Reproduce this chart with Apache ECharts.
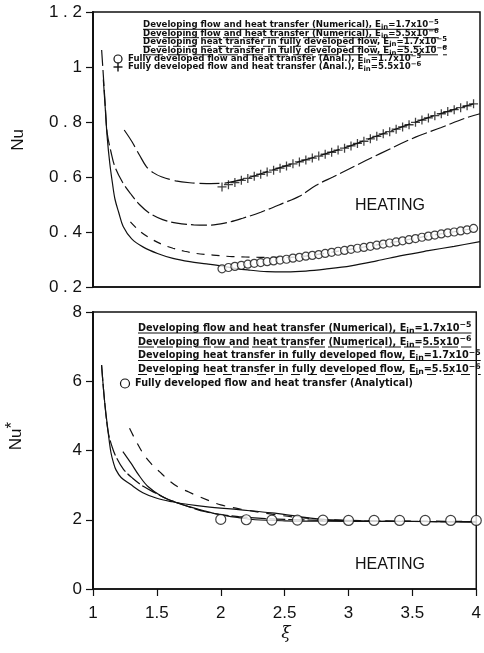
<!DOCTYPE html>
<html>
<head>
<meta charset="utf-8">
<script src="https://cdn.jsdelivr.net/npm/echarts@6/dist/echarts.min.js"></script>
<style>
  html, body { margin: 0; padding: 0; background: #fff; }
  #chart { width: 484px; height: 653px; }
</style>
</head>
<body>
<div id="chart"></div>
<script>
// ---- Upper panel: Nu versus xi ----
const topYLabels = ['0.2', '0.4', '0.6', '0.8', '1', '1.2'];

// Developing flow and heat transfer (numerical), E_in = 1.7e-5
const topNumAX = [1.08, 1.095, 1.11, 1.13, 1.15, 1.17, 1.2, 1.234, 1.3, 1.39, 1.5, 1.62, 1.75, 1.88, 2.0, 2.1, 2.2, 2.35, 2.5, 2.65, 2.8, 3.0, 3.2, 3.4, 3.6, 3.8, 4.0];
const topNumAY = [0.955, 0.85, 0.745, 0.65, 0.58, 0.52, 0.47, 0.42, 0.375, 0.345, 0.322, 0.304, 0.292, 0.284, 0.276, 0.268, 0.262, 0.256, 0.255, 0.258, 0.265, 0.277, 0.295, 0.315, 0.332, 0.348, 0.365];

// Developing flow and heat transfer (numerical), E_in = 5.5e-6
const topNumBX = [1.067, 1.08, 1.095, 1.11, 1.14, 1.17, 1.23, 1.29, 1.36, 1.44, 1.54, 1.65, 1.78, 1.9, 2.02, 2.16, 2.3, 2.47, 2.6, 2.73, 2.86, 3.0, 3.23, 3.5, 3.7, 3.88, 4.0];
const topNumBY = [1.062, 0.97, 0.86, 0.76, 0.69, 0.637, 0.58, 0.54, 0.5, 0.468, 0.445, 0.432, 0.426, 0.425, 0.432, 0.45, 0.472, 0.504, 0.53, 0.57, 0.6, 0.633, 0.686, 0.745, 0.78, 0.813, 0.83];

// Developing heat transfer in fully developed flow, E_in = 1.7e-5
const topHtAX = [1.29, 1.37, 1.466, 1.54, 1.62, 1.71, 1.8, 1.93, 2.06, 2.18, 2.3, 2.45, 2.6, 2.8, 3.0, 3.2, 3.4, 3.6, 3.8, 3.95];
const topHtAY = [0.437, 0.4, 0.371, 0.354, 0.341, 0.33, 0.322, 0.316, 0.311, 0.309, 0.308, 0.308, 0.31, 0.323, 0.338, 0.353, 0.369, 0.386, 0.401, 0.413];

// Developing heat transfer in fully developed flow, E_in = 5.5e-6
const topHtBX = [1.242, 1.3, 1.36, 1.415, 1.47, 1.53, 1.64, 1.75, 1.88, 2.0, 2.1, 2.2, 2.4, 2.6, 2.8, 3.0, 3.2, 3.4, 3.6, 3.8, 3.95];
const topHtBY = [0.771, 0.73, 0.68, 0.637, 0.615, 0.601, 0.586, 0.579, 0.576, 0.577, 0.585, 0.597, 0.627, 0.656, 0.684, 0.714, 0.749, 0.783, 0.816, 0.846, 0.866];

// Fully developed flow and heat transfer (analytical)
const topAnalX = [2.00, 2.05, 2.10, 2.15, 2.20, 2.25, 2.30, 2.35, 2.40, 2.45, 2.50, 2.55, 2.60, 2.65, 2.70, 2.75, 2.80, 2.85, 2.90, 2.95,
                  3.00, 3.05, 3.10, 3.15, 3.20, 3.25, 3.30, 3.35, 3.40, 3.45, 3.50, 3.55, 3.60, 3.65, 3.70, 3.75, 3.80, 3.85, 3.90, 3.95];
const topAnalAY = [0.266, 0.271, 0.275, 0.279, 0.283, 0.286, 0.289, 0.292, 0.295, 0.298, 0.301, 0.305, 0.308, 0.312, 0.315, 0.318, 0.322, 0.326, 0.330, 0.333,
                   0.337, 0.341, 0.344, 0.348, 0.352, 0.356, 0.360, 0.364, 0.368, 0.372, 0.376, 0.381, 0.385, 0.389, 0.393, 0.397, 0.400, 0.404, 0.408, 0.413];
const topAnalBY = [0.564, 0.572, 0.580, 0.588, 0.595, 0.603, 0.610, 0.618, 0.625, 0.632, 0.640, 0.648, 0.655, 0.662, 0.669, 0.676, 0.683, 0.690, 0.698, 0.705,
                   0.713, 0.722, 0.730, 0.739, 0.748, 0.757, 0.765, 0.774, 0.782, 0.790, 0.799, 0.807, 0.815, 0.823, 0.830, 0.838, 0.845, 0.852, 0.859, 0.866];

// ---- Lower panel: Nu* versus xi ----
const xLabels = ['1', '1.5', '2', '2.5', '3', '3.5', '4'];
const botYLabels = ['0', '2', '4', '6', '8'];

const botNumAX = [1.067, 1.09, 1.118, 1.14, 1.16, 1.18, 1.22, 1.29, 1.39, 1.5, 1.62, 1.75, 1.88, 2.14, 2.4, 2.6, 2.8, 3.1, 3.5, 4.0];
const botNumAY = [6.47, 5.45, 4.55, 3.95, 3.65, 3.44, 3.22, 3.03, 2.78, 2.62, 2.52, 2.44, 2.38, 2.29, 2.2, 2.1, 2.01, 1.97, 1.95, 1.94];

const botNumBX = [1.067, 1.09, 1.118, 1.15, 1.18, 1.24, 1.31, 1.4, 1.49, 1.58, 1.67, 1.77, 1.88, 2.0, 2.14, 2.35, 2.6, 2.85, 3.2, 3.6, 4.0];
const botNumBY = [6.47, 5.45, 4.55, 4.1, 3.82, 3.45, 3.2, 2.95, 2.77, 2.6, 2.48, 2.35, 2.23, 2.15, 2.09, 2.03, 2.0, 1.98, 1.96, 1.95, 1.94];

const botHtAX = [1.234, 1.3, 1.36, 1.43, 1.54, 1.65, 1.75, 1.88, 2.0, 2.14, 2.27, 2.5, 2.8, 3.2, 3.6, 4.0];
const botHtAY = [3.97, 3.62, 3.28, 2.96, 2.67, 2.5, 2.38, 2.25, 2.14, 2.06, 2.0, 1.97, 1.96, 1.95, 1.95, 1.94];

const botHtBX = [1.286, 1.34, 1.4, 1.46, 1.52, 1.59, 1.66, 1.75, 1.83, 2.0, 2.2, 2.4, 2.6, 2.85, 3.2, 3.6, 4.0];
const botHtBY = [4.64, 4.25, 3.87, 3.6, 3.39, 3.15, 2.96, 2.8, 2.67, 2.43, 2.28, 2.16, 2.07, 2.0, 1.97, 1.96, 1.95];

const botAnalX = [2.0, 2.2, 2.4, 2.6, 2.8, 3.0, 3.2, 3.4, 3.6, 3.8, 4.0];
const botAnalY = [2.01, 2.0, 1.99, 1.99, 1.99, 1.98, 1.98, 1.98, 1.98, 1.98, 1.98];

// ---- styling helpers ----
const INK = '#111';
const LINE_W = 1.2;
const DASH = {
  numA: 'solid',
  numB: [16, 4],
  htA: [8, 7],
  htB: [20, 5]
};
const DASH_BOT = {
  numA: 'solid',
  numB: [16, 3],
  htA: 'solid',
  htB: [9, 8]
};
const PLUS = 'path://M4.3,0h1.4v10h-1.4zM0,4.3h10v1.4h-10z';

const zip = (xs, ys) => xs.map((x, i) => [x, ys[i]]);
const spaced = s => s.split('').join(' ');

function lineSeries(name, xs, ys, type, idx) {
  return {
    name, type: 'line', xAxisIndex: idx, yAxisIndex: idx,
    data: zip(xs, ys), smooth: 0.35, symbol: 'none',
    lineStyle: { color: INK, width: LINE_W, type },
    silent: true, z: 3
  };
}

// legend text with E subscript "in" and a power-of-ten superscript
const LEG_FONT = 'DejaVu Sans';
function legendText(x, y, head, mant, expo, size) {
  const sub = Math.round(size * 0.8 * 10) / 10;
  const rich = {
    s: { fontSize: sub, fontWeight: 'bold', fontFamily: LEG_FONT, lineHeight: sub, verticalAlign: 'bottom', fill: INK },
    p: { fontSize: sub, fontWeight: 'bold', fontFamily: LEG_FONT, lineHeight: sub, verticalAlign: 'top', fill: INK }
  };
  let text = head;
  if (mant) text += 'E{s|in}=' + mant + '{p|' + expo + '}';
  return {
    type: 'text', x, y,
    style: {
      text, rich, fill: INK, fontSize: size, fontWeight: 'bold', fontFamily: LEG_FONT,
      lineHeight: size + 3.5, verticalAlign: 'middle', align: 'left'
    },
    silent: true
  };
}

const measureCtx = document.createElement('canvas').getContext('2d');
function textWidth(head, mant, expo, size) {
  measureCtx.font = 'bold ' + size + 'px "' + LEG_FONT + '"';
  let w = measureCtx.measureText(head + 'E=' + (mant || '')).width;
  if (mant) {
    measureCtx.font = 'bold ' + (Math.round(size * 0.8 * 10) / 10) + 'px "' + LEG_FONT + '"';
    w += measureCtx.measureText('in' + expo).width;
  }
  return w;
}

function underline(x, y, w, dash) {
  return {
    type: 'line', shape: { x1: x, y1: y, x2: x + w, y2: y },
    style: { stroke: INK, lineWidth: 1, lineDash: dash === 'solid' ? null : dash },
    silent: true
  };
}

const rowsDef = [
  ['Developing flow and heat transfer (Numerical), ', '1.7x10', '\u22125', 'numA'],
  ['Developing flow and heat transfer (Numerical), ', '5.5x10', '\u22126', 'numB'],
  ['Developing heat transfer in fully developed flow, ', '1.7x10', '\u22125', 'htA'],
  ['Developing heat transfer in fully developed flow, ', '5.5x10', '\u22126', 'htB']
];

const graphics = [];
// upper legend
{
  const size = 8.6, x0 = 143, ys = [25, 33.4, 42, 50.5];
  rowsDef.forEach((r, i) => {
    graphics.push(legendText(x0, ys[i], r[0], r[1], r[2], size));
    graphics.push(underline(x0, ys[i] + 4.3, textWidth(r[0], r[1], r[2], size), DASH[r[3]]));
  });
  graphics.push({ type: 'circle', shape: { cx: 118, cy: 59, r: 4 }, style: { fill: '#fff', stroke: INK, lineWidth: 1.2 }, silent: true });
  graphics.push(legendText(128, 59, 'Fully developed flow and heat transfer (Anal.), ', '1.7x10', '\u22125', size));
  graphics.push({ type: 'group', x: 113.5, y: 62.5, children: [
    { type: 'rect', shape: { x: 3.8, y: 0, width: 1.4, height: 9 }, style: { fill: INK } },
    { type: 'rect', shape: { x: 0, y: 3.8, width: 9, height: 1.4 }, style: { fill: INK } }
  ], silent: true });
  graphics.push(legendText(128, 67, 'Fully developed flow and heat transfer (Anal.), ', '5.5x10', '\u22126', size));
}
// lower legend
{
  const size = 9.7, x0 = 138, ys = [328, 342, 355.5, 369.5];
  rowsDef.forEach((r, i) => {
    graphics.push(legendText(x0, ys[i], r[0], r[1], r[2], size));
    graphics.push(underline(x0, ys[i] + 5, textWidth(r[0], r[1], r[2], size), DASH_BOT[r[3]]));
  });
  graphics.push({ type: 'circle', shape: { cx: 125, cy: 383.5, r: 4.5 }, style: { fill: '#fff', stroke: INK, lineWidth: 1.2 }, silent: true });
  graphics.push(legendText(135, 383.5, 'Fully developed flow and heat transfer (Analytical)', null, null, size));
}
// annotations and axis titles
const TITLE_FONT = 'Liberation Sans';
graphics.push({ type: 'text', x: 390, y: 206, style: { text: 'HEATING', fontSize: 16, fontFamily: TITLE_FONT, fill: INK, align: 'center', verticalAlign: 'middle' }, silent: true });
graphics.push({ type: 'text', x: 390, y: 565, style: { text: 'HEATING', fontSize: 16, fontFamily: TITLE_FONT, fill: INK, align: 'center', verticalAlign: 'middle' }, silent: true });
graphics.push({ type: 'text', x: 18, y: 140, rotation: Math.PI / 2, style: { text: 'Nu', fontSize: 17, fontFamily: TITLE_FONT, fill: INK, align: 'center', verticalAlign: 'middle' }, silent: true });
graphics.push({ type: 'text', x: 16, y: 436, rotation: Math.PI / 2,
  style: { text: 'Nu{a|*}', fontSize: 17, fontFamily: TITLE_FONT, fill: INK, align: 'center', verticalAlign: 'middle', lineHeight: 24,
    rich: { a: { fontSize: 17, fontFamily: TITLE_FONT, fill: INK, lineHeight: 12, verticalAlign: 'top' } } }, silent: true });
graphics.push({ type: 'text', x: 286, y: 634, style: { text: '\u03be', fontSize: 17, fontStyle: 'italic', fontFamily: 'DejaVu Serif', fill: INK, align: 'center', verticalAlign: 'middle' }, silent: true });

const axisLabelFont = { color: INK, fontSize: 17, fontFamily: TITLE_FONT };

const option = {
  backgroundColor: '#fff',
  animation: false,
  grid: [
    { left: 93, top: 12, width: 387, height: 275, show: true, borderColor: INK, borderWidth: 1.5, containLabel: false },
    { left: 93, top: 312, width: 388, height: 277, show: true, borderColor: INK, borderWidth: 1.5, containLabel: false }
  ],
  xAxis: [
    { gridIndex: 0, type: 'value', min: 1, max: 4, interval: 0.5,
      axisLine: { show: true, onZero: false, lineStyle: { color: INK, width: 1.5 } },
      axisTick: { show: false }, axisLabel: { show: false }, splitLine: { show: false } },
    { gridIndex: 1, type: 'value', min: 1, max: 4, interval: 0.5,
      axisLine: { show: true, onZero: false, lineStyle: { color: INK, width: 1.5 } },
      axisTick: { show: true, length: 7, lineStyle: { color: INK, width: 1.2 } },
      axisLabel: Object.assign({ margin: 16, formatter: v => xLabels[Math.round((v - 1) / 0.5)] }, axisLabelFont),
      splitLine: { show: false } }
  ],
  yAxis: [
    { gridIndex: 0, type: 'value', min: 0.2, max: 1.2, interval: 0.2,
      axisLine: { show: true, onZero: false, lineStyle: { color: INK, width: 2 } },
      axisTick: { show: true, length: 7, lineStyle: { color: INK, width: 1.2 } },
      axisLabel: Object.assign({ margin: 11, formatter: v => spaced(topYLabels[Math.round((v - 0.2) / 0.2)]) }, axisLabelFont),
      splitLine: { show: false } },
    { gridIndex: 1, type: 'value', min: 0, max: 8, interval: 2,
      axisLine: { show: true, onZero: false, lineStyle: { color: INK, width: 2 } },
      axisTick: { show: true, length: 7, lineStyle: { color: INK, width: 1.2 } },
      axisLabel: Object.assign({ margin: 11, formatter: v => botYLabels[Math.round(v / 2)] }, axisLabelFont),
      splitLine: { show: false } }
  ],
  series: [
    lineSeries('Developing flow and heat transfer (Numerical), E_in=1.7x10^-5', topNumAX, topNumAY, DASH.numA, 0),
    lineSeries('Developing flow and heat transfer (Numerical), E_in=5.5x10^-6', topNumBX, topNumBY, DASH.numB, 0),
    lineSeries('Developing heat transfer in fully developed flow, E_in=1.7x10^-5', topHtAX, topHtAY, DASH.htA, 0),
    lineSeries('Developing heat transfer in fully developed flow, E_in=5.5x10^-6', topHtBX, topHtBY, DASH.htB, 0),
    { name: 'Fully developed (Anal.), E_in=1.7x10^-5', type: 'scatter', xAxisIndex: 0, yAxisIndex: 0,
      data: zip(topAnalX, topAnalAY), symbol: 'circle', symbolSize: 8,
      itemStyle: { color: '#fff', borderColor: INK, borderWidth: 1.2 }, z: 5, silent: true },
    { name: 'Fully developed (Anal.), E_in=5.5x10^-6', type: 'scatter', xAxisIndex: 0, yAxisIndex: 0,
      data: zip(topAnalX, topAnalBY), symbol: PLUS, symbolSize: 9,
      itemStyle: { color: INK }, z: 5, silent: true },

    lineSeries('Nu* numerical 1.7e-5', botNumAX, botNumAY, DASH_BOT.numA, 1),
    lineSeries('Nu* numerical 5.5e-6', botNumBX, botNumBY, DASH_BOT.numB, 1),
    lineSeries('Nu* heat transfer 1.7e-5', botHtAX, botHtAY, DASH_BOT.htA, 1),
    lineSeries('Nu* heat transfer 5.5e-6', botHtBX, botHtBY, DASH_BOT.htB, 1),
    { name: 'Nu* analytical', type: 'scatter', xAxisIndex: 1, yAxisIndex: 1,
      data: zip(botAnalX, botAnalY), symbol: 'circle', symbolSize: 10,
      itemStyle: { color: '#fff', borderColor: INK, borderWidth: 1.2 }, z: 5, silent: true }
  ],
  graphic: graphics
};

const chart = echarts.init(document.getElementById('chart'), null, { renderer: 'canvas' });
chart.setOption(option);
</script>
</body>
</html>
